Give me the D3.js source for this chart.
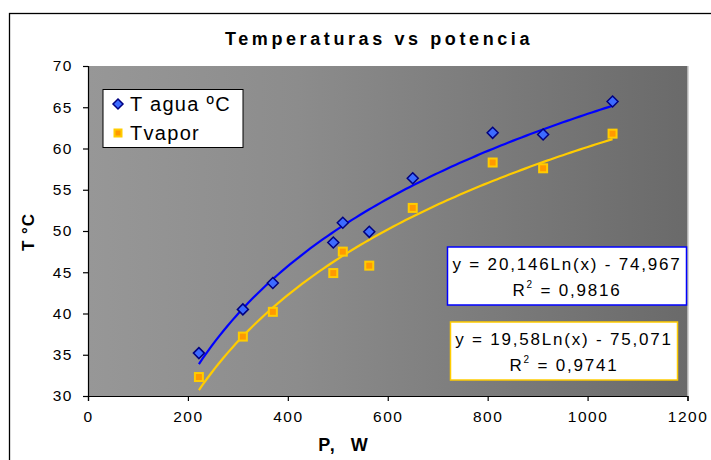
<!DOCTYPE html>
<html><head><meta charset="utf-8">
<script src="https://cdn.jsdelivr.net/npm/d3@7"></script>
<style>body{margin:0;background:#fff}svg{display:block;font-family:"Liberation Sans",Arial,sans-serif}</style>
</head><body><svg id="c" width="711" height="460"></svg>
<script>
const power = [222, 310, 370, 491, 510, 563, 650, 810, 911, 1050];
const tAgua = [35.2, 40.5, 43.7, 48.6, 51.0, 49.9, 56.4, 61.9, 61.7, 65.7];
const tVapor = [32.3, 37.2, 40.2, 44.9, 47.5, 45.8, 52.8, 58.3, 57.6, 61.8];
const fitAgua = {a: 20.146, b: -74.967};
const fitVapor = {a: 19.58, b: -75.071};
const xTicks = [0, 200, 400, 600, 800, 1000, 1200];
const yTicks = [30, 35, 40, 45, 50, 55, 60, 65, 70];
const eqAgua = ["y = 20,146Ln(x) - 74,967", "0,9816"];
const eqVapor = ["y = 19,58Ln(x) - 75,071", "0,9741"];

const svg = d3.select("#c");
const L = 88, R = 687.5, T = 66, B = 396;
const x = d3.scaleLinear().domain([0, 1200]).range([L, R]);
const y = d3.scaleLinear().domain([30, 70]).range([B, T]);

// outer border
svg.append("rect").attr("x", 9.5).attr("y", 13.5).attr("width", 720).attr("height", 470)
  .attr("fill", "#fff").attr("stroke", "#000").attr("stroke-width", 1.3);

const defs = svg.append("defs");
const g = defs.append("linearGradient").attr("id", "bg").attr("x1", 0).attr("x2", 1).attr("y1", 0).attr("y2", 0);
g.append("stop").attr("offset", 0).attr("stop-color", "#979797");
g.append("stop").attr("offset", 0.35).attr("stop-color", "#8c8c8c");
g.append("stop").attr("offset", 1).attr("stop-color", "#6a6a6a");
svg.append("rect").attr("x", L).attr("y", T).attr("width", R - L).attr("height", B - T).attr("fill", "url(#bg)");
svg.append("line").attr("x1", R + 0.5).attr("x2", R + 0.5).attr("y1", T).attr("y2", B).attr("stroke", "#b0b0b0").attr("stroke-width", 1);

// title
svg.append("text").attr("x", 379).attr("y", 45).attr("text-anchor", "middle")
  .attr("font-weight", "bold").attr("font-size", 18).attr("letter-spacing", 3.6).text("Temperaturas vs potencia");

// axes
const xa = svg.append("g").attr("transform", `translate(0,${B})`)
  .call(d3.axisBottom(x).tickValues(xTicks).tickSize(5).tickPadding(8).tickFormat(d3.format("d")));
const ya = svg.append("g").attr("transform", `translate(${L},0)`)
  .call(d3.axisLeft(y).tickValues(yTicks).tickSize(5).tickPadding(10).tickFormat(d3.format("d")));
[xa, ya].forEach(a => {
  a.select(".domain").attr("stroke", "#000").attr("stroke-width", 1.2);
  a.selectAll(".tick line").attr("stroke", "#000").attr("stroke-width", 1.2);
  a.selectAll("text").attr("font-size", 15.5).attr("fill", "#000")
    .attr("font-family", "'Liberation Sans',Arial,sans-serif").attr("letter-spacing", 1.5);
});
xa.selectAll("text").attr("dy", "0.85em");

svg.append("text").attr("x", 344).attr("y", 451).attr("text-anchor", "middle")
  .attr("font-weight", "bold").attr("font-size", 18).attr("letter-spacing", 2).attr("xml:space", "preserve").text("P,  W");
svg.append("text").attr("transform", "translate(34,232) rotate(-90)").attr("text-anchor", "middle")
  .attr("font-weight", "bold").attr("font-size", 17).attr("letter-spacing", 1).text("T °C");

// trendlines
function curve(fit) {
  const xs = d3.range(0, 101).map(i => power[0] + (power[power.length - 1] - power[0]) * i / 100);
  return xs.map(v => [v, fit.a * Math.log(v) + fit.b]);
}
const line = d3.line().x(d => x(d[0])).y(d => y(d[1]));
svg.append("path").attr("d", line(curve(fitVapor))).attr("fill", "none").attr("stroke", "#ffcc00").attr("stroke-width", 2.2);
svg.append("path").attr("d", line(curve(fitAgua))).attr("fill", "none").attr("stroke", "#0000ff").attr("stroke-width", 2.2);

// markers
const diamond = (cx, cy, r) => `M${cx},${cy - r}L${cx + r},${cy}L${cx},${cy + r}L${cx - r},${cy}Z`;
svg.append("g").selectAll("path").data(power).join("path")
  .attr("d", (d, i) => diamond(x(d), y(tAgua[i]), 5.5))
  .attr("fill", "#3d6bff").attr("stroke", "#000080").attr("stroke-width", 1.5);
svg.append("g").selectAll("rect").data(power).join("rect")
  .attr("x", d => x(d) - 4).attr("y", (d, i) => y(tVapor[i]) - 4).attr("width", 8).attr("height", 8)
  .attr("fill", "#ff9900").attr("stroke", "#ffcc00").attr("stroke-width", 2);

// legend
const lg = svg.append("g");
lg.append("rect").attr("x", 103).attr("y", 89.5).attr("width", 140).attr("height", 58)
  .attr("fill", "#fff").attr("stroke", "#000").attr("stroke-width", 1);
lg.append("path").attr("d", diamond(118, 104, 5)).attr("fill", "#3d6bff").attr("stroke", "#000080").attr("stroke-width", 1.5);
lg.append("rect").attr("x", 114.5).attr("y", 129.5).attr("width", 7).attr("height", 7).attr("fill", "#ff9900").attr("stroke", "#ffcc00").attr("stroke-width", 2);
lg.append("text").attr("x", 130).attr("y", 111).attr("font-size", 20).attr("letter-spacing", 1.3).text("T agua ºC");
lg.append("text").attr("x", 130).attr("y", 140).attr("font-size", 20).attr("letter-spacing", 1.3).text("Tvapor");

// equation boxes
function eqBox(bx, by, bw, bh, color, lines) {
  const gg = svg.append("g");
  gg.append("rect").attr("x", bx).attr("y", by).attr("width", bw).attr("height", bh)
    .attr("fill", "#fff").attr("stroke", color).attr("stroke-width", 1.5);
  const cx = bx + bw / 2;
  gg.append("text").attr("x", cx).attr("y", by + 23).attr("text-anchor", "middle")
    .attr("font-size", 17).attr("letter-spacing", 1.8).text(lines[0]);
  const t = gg.append("text").attr("x", cx).attr("y", by + 49).attr("text-anchor", "middle")
    .attr("font-size", 17).attr("letter-spacing", 1.8);
  t.append("tspan").text("R");
  t.append("tspan").attr("dy", -8).attr("font-size", 10).text("2");
  t.append("tspan").attr("dy", 8).text(" = " + lines[1]);
}
eqBox(447.5, 247, 239, 58, "#0000ff", eqAgua);
eqBox(450.5, 322, 227, 58, "#ffcc00", eqVapor);
</script></body></html>
